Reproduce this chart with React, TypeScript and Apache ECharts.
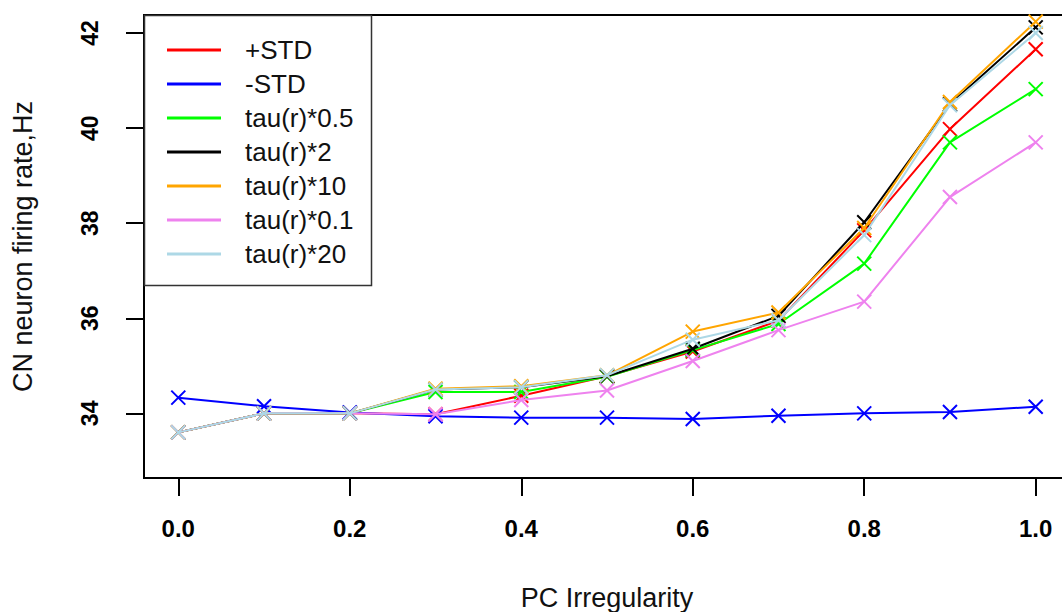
import React, { useEffect, useRef } from "react";
import * as echarts from "echarts";

const irregularity = [0, 0.1, 0.2, 0.3, 0.4, 0.5, 0.6, 0.7, 0.8, 0.9, 1.0];
const plusSTD = [33.6, 34.0, 34.0, 33.98, 34.37, 34.78, 35.3, 35.95, 37.85, 39.98, 41.66];
const minusSTD = [34.33, 34.15, 34.02, 33.94, 33.91, 33.91, 33.88, 33.95, 34.0, 34.03, 34.14];
const tau05 = [33.6, 34.0, 34.0, 34.45, 34.45, 34.77, 35.33, 35.88, 37.15, 39.7, 40.82];
const tau2 = [33.6, 34.0, 34.0, 34.5, 34.55, 34.78, 35.36, 36.05, 38.02, 40.5, 42.12];
const tau10 = [33.6, 34.0, 34.0, 34.52, 34.57, 34.8, 35.72, 36.12, 37.9, 40.55, 42.24];
const tau01 = [33.6, 34.0, 34.0, 33.98, 34.28, 34.48, 35.1, 35.75, 36.35, 38.55, 39.7];
const tau20 = [33.6, 34.0, 34.0, 34.5, 34.55, 34.8, 35.55, 35.96, 37.75, 40.48, 42.0];

const seriesNames = ["+STD", "-STD", "tau(r)*0.5", "tau(r)*2", "tau(r)*10", "tau(r)*0.1", "tau(r)*20"];
const seriesValues = [plusSTD, minusSTD, tau05, tau2, tau10, tau01, tau20];
const seriesColors = ["#FF0000", "#0000FF", "#00FF00", "#000000", "#FFA500", "#EE82EE", "#ADD8E6"];

const xTicks = [0, 0.2, 0.4, 0.6, 0.8, 1.0];
const yTicks = [34, 36, 38, 40, 42];

const FONT = "'Liberation Sans', Arial, Helvetica, sans-serif";
const CROSS = "path://M0,0L10,10M0,10L10,0";

export default function App() {
  const ref = useRef<HTMLDivElement>(null);
  useEffect(() => {
    if (!ref.current) return;
    const chart = echarts.init(ref.current, undefined, { renderer: "svg" });
    const series = seriesNames.map((name, i) => ({
      name,
      type: "line",
      yAxisIndex: 0,
      data: irregularity.map((x, j) => [x, seriesValues[i][j]]),
      symbol: CROSS,
      symbolSize: 14,
      showSymbol: true,
      lineStyle: { color: seriesColors[i], width: 2 },
      itemStyle: { color: seriesColors[i], borderColor: seriesColors[i], borderWidth: 2 },
      emphasis: { disabled: true },
      z: 2 + i,
    }));
    const tickStyle = { color: "#000", width: 2 };
    chart.setOption({
      animation: false,
      backgroundColor: "#ffffff",
      textStyle: { fontFamily: FONT },
      grid: {
        left: 144,
        top: 15,
        width: 926,
        height: 463,
        outerBoundsMode: "none",
        containLabel: false,
        show: true,
        borderColor: "#000",
        borderWidth: 2,
        backgroundColor: "transparent",
      },
      xAxis: {
        type: "value",
        min: -0.04,
        max: 1.04,
        position: "bottom",
        axisLine: { show: true, onZero: false, lineStyle: tickStyle },
        splitLine: { show: false },
        axisTick: { show: true, length: 18, customValues: xTicks, lineStyle: tickStyle },
        axisLabel: {
          customValues: xTicks,
          formatter: (v: number) => v.toFixed(1),
          fontSize: 24,
          fontWeight: "bold",
          color: "#000",
          fontFamily: FONT,
          margin: 38,
        },
        name: "PC Irregularity",
        nameLocation: "middle",
        nameGap: 106,
        nameTextStyle: { fontSize: 27, color: "#111", fontFamily: FONT },
      },
      yAxis: [
        {
          type: "value",
          min: 32.64,
          max: 42.38,
          position: "left",
          axisLine: { show: true, onZero: false, lineStyle: tickStyle },
          splitLine: { show: false },
          axisTick: { show: true, length: 18, customValues: yTicks, lineStyle: tickStyle },
          axisLabel: {
            customValues: yTicks,
            rotate: 90,
            fontSize: 23,
            fontWeight: "bold",
            color: "#000",
            fontFamily: FONT,
            margin: 43,
          },
          name: "CN neuron firing rate,Hz",
          nameLocation: "middle",
          nameGap: 108,
          nameRotate: 90,
          nameTextStyle: { fontSize: 27, color: "#111", fontFamily: FONT },
        },
        {
          type: "value",
          min: 32.64,
          max: 42.38,
          position: "left",
          offset: 0,
          axisLine: { show: false, onZero: false },
          splitLine: { show: false },
          axisTick: { show: true, length: 18, customValues: yTicks, lineStyle: tickStyle },
          axisLabel: { show: false },
        },
      ],
      legend: {
        orient: "vertical",
        left: 167,
        top: 35,
        padding: 0,
        icon: "rect",
        itemWidth: 54,
        itemHeight: 3,
        itemGap: 4,
        itemStyle: { borderWidth: 0 },
        selectedMode: false,
        data: seriesNames,
        textStyle: {
          fontSize: 26,
          lineHeight: 30,
          color: "#111",
          fontFamily: FONT,
          padding: [0, 0, 0, 19],
        },
      },
      graphic: [
        {
          type: "rect",
          shape: { x: 144.5, y: 15.5, width: 227, height: 270 },
          style: { fill: "#fff", stroke: "#333", lineWidth: 1.5 },
          z: 1,
          silent: true,
        },
      ],
      series,
    });
    return () => chart.dispose();
  }, []);
  return (
    <div
      ref={ref}
      style={{ position: "fixed", left: 0, top: 0, width: 1072, height: 612 }}
    />
  );
}
